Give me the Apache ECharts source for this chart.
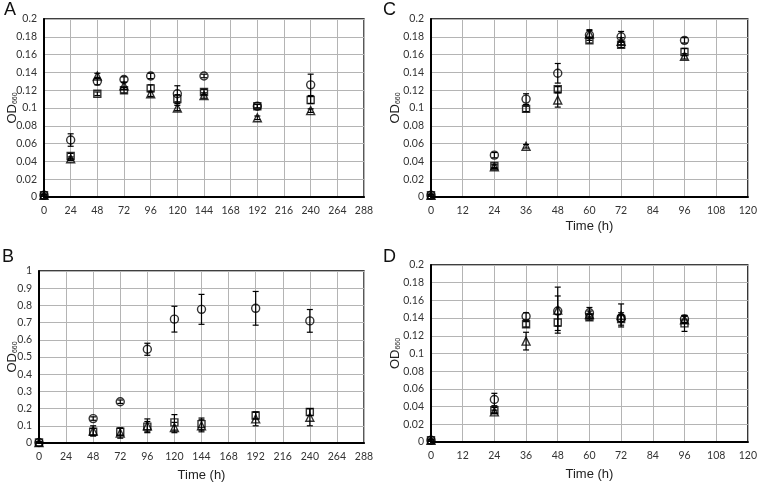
<!DOCTYPE html>
<html><head><meta charset="utf-8">
<script src="https://cdn.jsdelivr.net/npm/echarts@6/dist/echarts.min.js"></script>
<style>html,body{margin:0;padding:0;background:#fff}#c{width:760px;height:483px}</style>
</head><body><div id="c"></div>
<script>
// Panel A
const timeA = [0,24,48,72,96,120,144,192,240];
const circleA = [0.002,0.064,0.130,0.132,0.136,0.116,0.136,0.102,0.126];
const circleErrA = [0.001,0.007,0.004,0.003,0.003,0.009,0.002,0.002,0.012];
const squareA = [0.002,0.046,0.116,0.120,0.122,0.110,0.118,0.102,0.109];
const squareErrA = [0.001,0.003,0.002,0.003,0.004,0.005,0.003,0.002,0.004];
const triangleA = [0.002,0.043,0.136,0.125,0.116,0.100,0.114,0.089,0.097];
const triangleErrA = [0.001,0.002,0.003,0.004,0.003,0.003,0.003,0.002,0.002];
// Panel B
const timeB = [0,48,72,96,120,144,192,240];
const circleB = [0.003,0.142,0.240,0.545,0.720,0.777,0.783,0.710];
const circleErrB = [0.003,0.010,0.010,0.035,0.075,0.087,0.098,0.066];
const squareB = [0.003,0.065,0.065,0.095,0.120,0.110,0.160,0.180];
const squareErrB = [0.003,0.020,0.020,0.030,0.045,0.035,0.020,0.020];
const triangleB = [0.003,0.070,0.058,0.100,0.090,0.100,0.140,0.150];
const triangleErrB = [0.003,0.030,0.030,0.040,0.030,0.035,0.040,0.050];
// Panel C
const timeC = [0,24,36,48,60,72,96];
const circleC = [0.002,0.047,0.110,0.139,0.182,0.180,0.176];
const circleErrC = [0.001,0.003,0.006,0.011,0.006,0.006,0.003];
const squareC = [0.002,0.035,0.099,0.121,0.176,0.171,0.163];
const squareErrC = [0.001,0.002,0.003,0.003,0.003,0.003,0.004];
const triangleC = [0.002,0.034,0.057,0.109,0.183,0.175,0.158];
const triangleErrC = [0.001,0.002,0.002,0.008,0.004,0.004,0.003];
// Panel D
const timeD = [0,24,36,48,60,72,96];
const circleD = [0.002,0.048,0.142,0.148,0.146,0.140,0.139];
const circleErrD = [0.001,0.007,0.004,0.017,0.006,0.004,0.004];
const squareD = [0.002,0.036,0.133,0.135,0.141,0.139,0.134];
const squareErrD = [0.001,0.003,0.003,0.009,0.003,0.007,0.009];
const triangleD = [0.002,0.034,0.114,0.149,0.144,0.143,0.138];
const triangleErrD = [0.001,0.002,0.010,0.026,0.004,0.013,0.004];

const panels = [
  {letter:'A', t:timeA, c:circleA, ce:circleErrA, s:squareA, se:squareErrA, tr:triangleA, te:triangleErrA,
   grid:{left:44,top:19,width:320,height:178}, xmax:288, xint:24, ymax:0.2, yint:0.02, xname:'', xgap:24, ygap:25, lpos:[4,1]},
  {letter:'B', t:timeB, c:circleB, ce:circleErrB, s:squareB, se:squareErrB, tr:triangleB, te:triangleErrB,
   grid:{left:39,top:271,width:325,height:176}, xmax:288, xint:24, ymax:1, yint:0.1, xname:'Time (h)', xgap:26, ygap:20, lpos:[2,248]},
  {letter:'C', t:timeC, c:circleC, ce:circleErrC, s:squareC, se:squareErrC, tr:triangleC, te:triangleErrC,
   grid:{left:431,top:19,width:325,height:178}, xmax:120, xint:12, ymax:0.2, yint:0.02, xname:'Time (h)', xgap:22.5, ygap:29, lpos:[383,1]},
  {letter:'D', t:timeD, c:circleD, ce:circleErrD, s:squareD, se:squareErrD, tr:triangleD, te:triangleErrD,
   grid:{left:431,top:265,width:325,height:177}, xmax:120, xint:12, ymax:0.2, yint:0.02, xname:'Time (h)', xgap:25.5, ygap:29, lpos:[383,248]}
];

const grids=[], xAxes=[], yAxes=[], series=[], graphics=[];
function errRender(params, api){
  const x=api.value(0), y=api.value(1), e=api.value(2);
  const lo=api.coord([x, Math.max(0,y-e)]), hi=api.coord([x,y+e]);
  const hw=3;
  const st={stroke:'#000', lineWidth:1.2};
  return {type:'group', children:[
    {type:'line', shape:{x1:lo[0],y1:lo[1],x2:hi[0],y2:hi[1]}, style:st},
    {type:'line', shape:{x1:lo[0]-hw,y1:lo[1],x2:lo[0]+hw,y2:lo[1]}, style:st},
    {type:'line', shape:{x1:hi[0]-hw,y1:hi[1],x2:hi[0]+hw,y2:hi[1]}, style:st}
  ]};
}
panels.forEach((p,i)=>{
  grids.push(Object.assign({show:true, borderColor:'#000', borderWidth:1.3, backgroundColor:'#fff'}, p.grid));
  xAxes.push({gridIndex:i, type:'value', min:0, max:p.xmax, interval:p.xint,
    name:p.xname, nameLocation:'middle', nameGap:p.xgap, nameMoveOverlap:false,
    nameTextStyle:{fontFamily:'Liberation Sans', fontSize:13, color:'#222'},
    axisLine:{show:true, onZero:false, lineStyle:{color:'#000', width:2}},
    axisTick:{show:false},
    axisLabel:{fontFamily:'Lato', fontSize:10.5, color:'#333', margin:8},
    splitLine:{show:true, lineStyle:{color:'#b4b4b4', width:1}}});
  yAxes.push({gridIndex:i, type:'value', min:0, max:p.ymax, interval:p.yint,
    name:'{a|OD}{b|660}', nameLocation:'middle', nameGap:p.ygap, nameMoveOverlap:false,
    nameTextStyle:{rich:{a:{fontFamily:'Liberation Sans', fontSize:13, color:'#222'},
      b:{fontFamily:'Liberation Sans', fontSize:7, color:'#222', padding:[5,0,0,0]}}},
    axisLine:{show:true, lineStyle:{color:'#000', width:2}},
    axisTick:{show:false},
    axisLabel:{fontFamily:'Lato', fontSize:10.5, color:'#333', margin:7,
      formatter: v => String(+v.toFixed(2))},
    splitLine:{show:true, lineStyle:{color:'#b4b4b4', width:1}}});
  const sets=[['triangle',p.tr,p.te,8],['circle',p.c,p.ce,8],['rect',p.s,p.se,7]];
  sets.forEach(([sym,vals,errs,size])=>{
    series.push({type:'custom', xAxisIndex:i, yAxisIndex:i, renderItem:errRender,
      data: p.t.map((t,k)=>[t, vals[k], errs[k]]), z:3, silent:true, clip:false});
    series.push({type:'scatter', xAxisIndex:i, yAxisIndex:i, symbol:sym, symbolSize:size,
      data: p.t.map((t,k)=>[t, vals[k]]),
      itemStyle:{color:'rgba(255,255,255,0)', borderColor:'#000', borderWidth:1.4}, z:4, silent:true});
  });
  graphics.push({type:'text', left:p.lpos[0], top:p.lpos[1],
    style:{text:p.letter, font:'18px "Liberation Sans"', fill:'#111'}});
});

const chart = echarts.init(document.getElementById('c'), null, {renderer:'canvas'});
chart.setOption({animation:false, backgroundColor:'#fff', grid:grids, xAxis:xAxes, yAxis:yAxes, series:series, graphic:graphics});
</script></body></html>
